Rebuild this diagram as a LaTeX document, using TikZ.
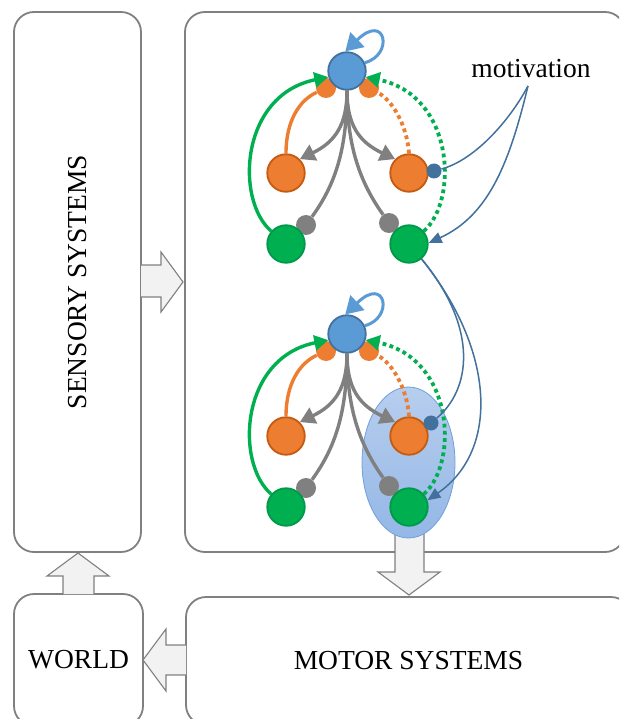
\documentclass[tikz,border=0pt]{standalone}
\usepackage{fontspec}
\setmainfont{Liberation Serif}
\usetikzlibrary{arrows.meta,shapes.geometric}

\definecolor{edgegray}{HTML}{808080}
\definecolor{arrowfill}{HTML}{F2F2F2}
\definecolor{nblue}{HTML}{5B9BD5}
\definecolor{nblueD}{HTML}{41719C}
\definecolor{norange}{HTML}{ED7D31}
\definecolor{norangeD}{HTML}{C55A11}
\definecolor{ngreen}{HTML}{00B050}
\definecolor{ngreenD}{HTML}{00984A}
\definecolor{linkgray}{HTML}{808080}
\definecolor{motblue}{HTML}{41719C}
\definecolor{focustop}{RGB}{183,206,238}
\definecolor{focusbot}{RGB}{148,183,230}
\definecolor{focusedge}{RGB}{110,160,218}

\tikzset{
  panel/.style={draw=edgegray, line width=1.8pt, rounded corners=20pt, fill=white,
    inner sep=0pt, font=\fontsize{27.5}{32}\selectfont},
  bigarrow/.style={draw=edgegray, line width=1.1pt, fill=arrowfill, line join=miter},
  cell/.style={circle, inner sep=0pt, minimum size=37.5pt, line width=1.8pt},
  bluecell/.style={cell, fill=nblue, draw=nblueD},
  orangecell/.style={cell, fill=norange, draw=norangeD},
  greencell/.style={cell, fill=ngreen, draw=ngreenD},
  osyn/.style={circle, inner sep=0pt, minimum size=20pt, fill=norange},
  gsyn/.style={circle, inner sep=0pt, minimum size=20pt, fill=linkgray},
  mdot/.style={circle, inner sep=0pt, minimum size=15pt, fill=motblue},
  graylink/.style={draw=linkgray, line width=3.4pt},
  graytip/.style={graylink, -{Triangle[length=15pt,width=17pt]}},
  orangelink/.style={draw=norange, line width=3.4pt},
  orangedots/.style={orangelink, line width=3.8pt, dash pattern=on 3.8pt off 3.4pt},
  greenlink/.style={draw=ngreen, line width=3.4pt, -{Triangle[length=14pt,width=15pt]}},
  greendots/.style={greenlink, line width=3.8pt, dash pattern=on 3.8pt off 3.4pt},
  selfloop/.style={draw=nblue, line width=3pt, -{Triangle[length=17pt,width=20pt]}},
  motline/.style={draw=motblue, line width=1.5pt},
  mottip/.style={motline, -{Triangle[length=13pt,width=11pt]}}
}

% one recurrent module: value unit, two action units, two state units
\newcommand\neuralnet[2]{%
\begin{scope}[shift={(0,#2)}]
  \node[osyn] (#1pl) at (326,88) {};
  \node[osyn] (#1pr) at (369,88) {};
  \node[gsyn] (#1ql) at (306,225) {};
  \node[gsyn] (#1qr) at (389,223) {};
  \node[bluecell] (#1b) at (347,71) {};
  \node[orangecell] (#1ol) at (286,173) {};
  \node[orangecell] (#1or) at (409,173) {};
  \node[greencell] (#1gl) at (286,244) {};
  \node[greencell] (#1gr) at (409,244) {};
  % fan-out from the value unit
  \draw[graytip] (#1b.south) .. controls (347,125) and (335,142) .. (#1ol.45);
  \draw[graytip] (#1b.south) .. controls (347,125) and (359,142) .. (#1or.135);
  \draw[graylink] (#1b.south) .. controls (347,150) and (335,185) .. (#1ql);
  \draw[graylink] (#1b.south) .. controls (347,150) and (362,185) .. (#1qr);
  % feedback into the value unit
  \draw[orangelink] (#1ol.north) .. controls (286,120) and (300,100) .. (#1pl);
  \draw[orangedots] (#1or.north) .. controls (407,125) and (392,100) .. (#1pr);
  \draw[greenlink] (#1gl.139) .. controls (235,200) and (240,95) .. (#1b.198);
  \draw[greendots] (#1gr.41) .. controls (459,200) and (454,95) .. (#1b.-18);
  \draw[selfloop] (#1b.25) .. controls (394,55) and (386,12) .. (#1b.95);
\end{scope}}

\begin{document}
\begin{tikzpicture}[x=1pt,y=-1pt]
\useasboundingbox (0,0) rectangle (619,719);
\clip (0,0) rectangle (619,719);

% system boxes
\node[panel, rotate=90, minimum width=540pt, minimum height=127pt] (sens) at (77.5,282) {SENSORY SYSTEMS};
\node[panel, minimum width=440pt, minimum height=540pt] (core) at (405,282) {};
\node[panel, minimum width=129pt, minimum height=132pt] (world) at (78.5,660) {WORLD};
\node[panel, minimum width=445pt, minimum height=128pt] (motor) at (408.5,661) {MOTOR SYSTEMS};

% block arrows between the systems
\draw[bigarrow] (141,265) -- (161,265) -- (161,252) -- (183,282) -- (161,312) -- (161,297) -- (141,297);
\draw[bigarrow] (395,528) -- (395,572) -- (378,572) -- (409,595) -- (440,572) -- (424,572) -- (424,528) -- cycle;
\draw[bigarrow] (63,594) -- (63,576) -- (47,576) -- (78,553) -- (109,576) -- (94,576) -- (94,594);
\draw[bigarrow] (186,645) -- (166,645) -- (166,629) -- (143,660) -- (166,691) -- (166,675) -- (186,675);

% highlighted region of the lower module
\node[ellipse, inner sep=0pt, minimum width=93pt, minimum height=151pt,
      top color=focustop, bottom color=focusbot, draw=focusedge, line width=0.8pt]
      (focus) at (408.5,462.5) {};

\neuralnet{t}{0}
\neuralnet{u}{263}

% motivation inputs
\node[mdot] (tmd) at (434,171) {};
\node[mdot] (umd) at (431,423) {};
\node[anchor=base, font=\fontsize{27.5}{32}\selectfont] (mot) at (531,78) {motivation};
\coordinate (mfoot) at (528,86);
\draw[motline] (mfoot) .. controls (510,120) and (475,160) .. (tmd);
\draw[mottip] (mfoot) .. controls (510,160) and (490,215) .. (tgr.3);
\draw[motline] (tgr.-50) .. controls (480,330) and (470,390) .. (umd);
\draw[mottip] (tgr.-50) .. controls (495,350) and (500,450) .. (ugr.20);
\end{tikzpicture}
\end{document}
